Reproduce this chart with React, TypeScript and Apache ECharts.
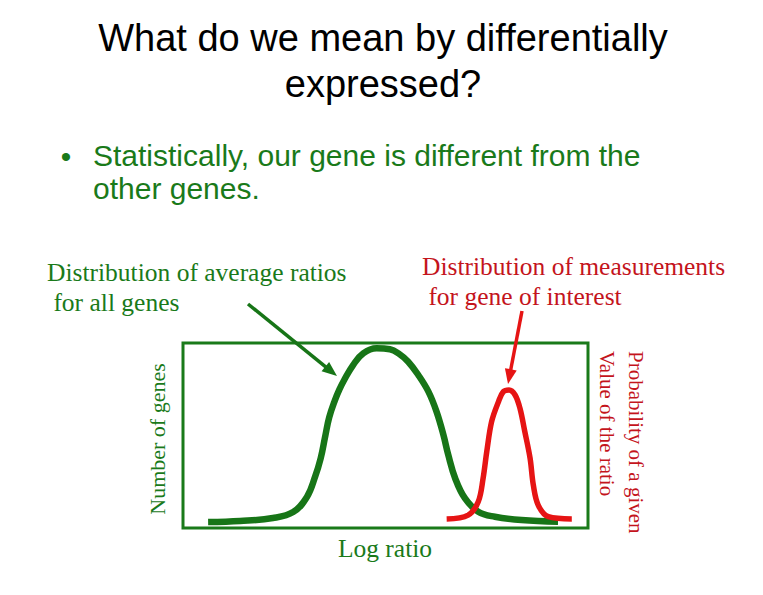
import React, { useEffect, useRef } from "react";
import * as echarts from "echarts";

// Green curve: distribution of average ratios for all genes (x: log ratio units 0-100, y: relative count 0-100)
const allGenesX = [6.2, 14.1, 22.2, 27.2, 30.6, 32.6, 34.0, 35.1, 36.1, 37.5, 38.6, 39.8, 42.0, 44.5, 47.8, 51.1, 53.2, 55.6, 58.1, 60.6, 62.6, 64.3, 65.5, 67.2, 69.6, 72.9, 77.0, 83.6, 92.6];
const allGenesY = [3.2, 3.8, 5.4, 8.6, 16.8, 27.6, 37.7, 49.4, 59.8, 69.0, 74.8, 80.0, 88.1, 94.4, 97.1, 96.6, 94.4, 89.9, 82.7, 73.7, 62.9, 50.3, 39.5, 26.9, 16.1, 8.8, 6.1, 4.3, 3.4];

// Red curve: distribution of measurements for gene of interest
const geneX = [65.1, 70.4, 72.9, 74.1, 75.0, 76.2, 77.9, 79.1, 80.5, 82.0, 83.2, 84.4, 85.7, 86.5, 87.7, 90.2, 96.0];
const geneY = [4.9, 7.0, 14.2, 26.9, 41.2, 57.5, 68.3, 73.7, 74.6, 71.9, 64.7, 52.1, 37.7, 23.2, 12.4, 6.1, 4.9];

const titleLines = ["What do we mean by differentially", "expressed?"];
const bulletLines = ["Statistically, our gene is different from the", "other genes."];
const leftNote = ["Distribution of average ratios", " for all genes"];
const rightNote = ["Distribution of measurements", " for gene of interest"];
const xLabel = "Log ratio";
const yLabel = "Number of genes";
const rightAxisLines = ["Probability of a given", "Value of the ratio"];

const GREEN = "#1a7a1a";
const CURVE_GREEN = "#177517";
const RED = "#e61414";
const RED_TEXT = "#c4141c";

function arrow(x1: number, y1: number, x2: number, y2: number, color: string, width: number) {
  const dx = x2 - x1;
  const dy = y2 - y1;
  const len = Math.sqrt(dx * dx + dy * dy);
  const ux = dx / len;
  const uy = dy / len;
  const hl = 15;
  const hw = 6;
  const bx = x2 - ux * hl;
  const by = y2 - uy * hl;
  const nx = -uy;
  const ny = ux;
  return [
    { type: "line", shape: { x1, y1, x2: bx + ux * 2, y2: by + uy * 2 }, style: { stroke: color, lineWidth: width } },
    {
      type: "polygon",
      shape: { points: [[x2, y2], [bx + nx * hw, by + ny * hw], [bx - nx * hw, by - ny * hw]] },
      style: { fill: color },
    },
  ];
}

export default function App() {
  const ref = useRef<HTMLDivElement>(null);
  useEffect(() => {
    if (!ref.current) return;
    const chart = echarts.init(ref.current, undefined, { renderer: "svg" });
    const sans = "'Liberation Sans', Arial, sans-serif";
    const serif = "'Liberation Serif', 'Times New Roman', serif";
    const graphics: any[] = [
      ...titleLines.map((t, i) => ({
        type: "text",
        x: 383,
        y: 38 + i * 46,
        style: { text: t, font: `38px ${sans}`, fill: "#000", textAlign: "center", textVerticalAlign: "middle" },
      })),
      {
        type: "text",
        x: 66,
        y: 156,
        style: { text: "•", font: `30px ${sans}`, fill: GREEN, textAlign: "center", textVerticalAlign: "middle" },
      },
      ...bulletLines.map((t, i) => ({
        type: "text",
        x: 93,
        y: 155 + i * 33,
        style: { text: t, font: `30px ${sans}`, fill: GREEN, textAlign: "left", textVerticalAlign: "middle" },
      })),
      ...leftNote.map((t, i) => ({
        type: "text",
        x: 47,
        y: 272 + i * 30,
        style: { text: t, font: `25.5px ${serif}`, fill: GREEN, textAlign: "left", textVerticalAlign: "middle" },
      })),
      ...rightNote.map((t, i) => ({
        type: "text",
        x: 422,
        y: 266 + i * 30,
        style: { text: t, font: `25.5px ${serif}`, fill: RED_TEXT, textAlign: "left", textVerticalAlign: "middle" },
      })),
      {
        type: "text",
        x: 385,
        y: 548,
        style: { text: xLabel, font: `25.5px ${serif}`, fill: GREEN, textAlign: "center", textVerticalAlign: "middle" },
      },
      {
        type: "text",
        x: 157,
        y: 439,
        rotation: Math.PI / 2,
        style: { text: yLabel, font: `22px ${serif}`, fill: GREEN, textAlign: "center", textVerticalAlign: "middle" },
      },
      ...rightAxisLines.map((t, i) => ({
        type: "text",
        x: 636 - i * 29,
        y: 351,
        rotation: -Math.PI / 2,
        style: { text: t, font: `21px ${serif}`, fill: RED_TEXT, textAlign: "left", textVerticalAlign: "middle" },
      })),
      ...arrow(248, 304, 337, 376, CURVE_GREEN, 3.5),
      ...arrow(522, 311, 508, 384, RED, 3.5),
    ];
    chart.setOption({
      animation: false,
      backgroundColor: "#fff",
      grid: {
        left: 183,
        top: 343,
        width: 405,
        height: 185,
        show: true,
        borderColor: GREEN,
        borderWidth: 3,
        backgroundColor: "transparent",
      },
      xAxis: { type: "value", min: 0, max: 100, show: false },
      yAxis: { type: "value", min: 0, max: 100, show: false },
      series: [
        {
          type: "line",
          name: "All genes",
          data: allGenesX.map((x, i) => [x, allGenesY[i]]),
          smooth: 0.4,
          showSymbol: false,
          lineStyle: { color: CURVE_GREEN, width: 6.5 },
          z: 2,
        },
        {
          type: "line",
          name: "Gene of interest",
          data: geneX.map((x, i) => [x, geneY[i]]),
          smooth: 0.35,
          showSymbol: false,
          lineStyle: { color: RED, width: 5.5 },
          z: 3,
        },
      ],
      graphic: graphics,
    });
    return () => chart.dispose();
  }, []);
  return <div ref={ref} style={{ position: "fixed", left: 0, top: 0, width: 763, height: 595 }} />;
}
